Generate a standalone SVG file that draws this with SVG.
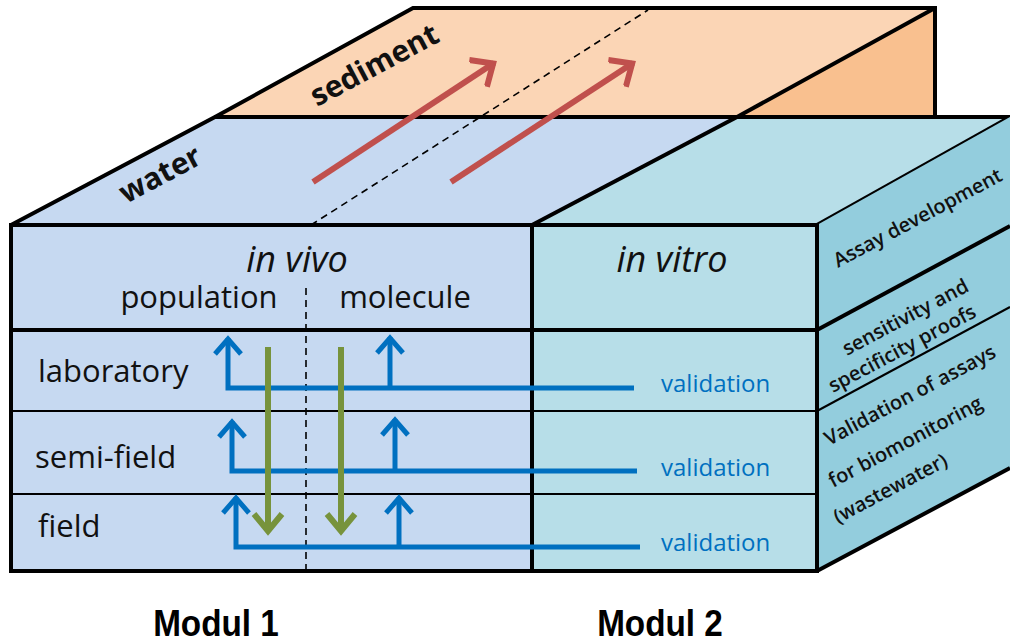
<svg xmlns="http://www.w3.org/2000/svg" width="1010" height="643" viewBox="0 0 1010 643">
<style>
.edge{stroke:#000;stroke-width:4;stroke-linejoin:miter;fill:none}
.thin{stroke:#000;stroke-width:2;fill:none}
.dash{stroke:#000;stroke-width:1.6;stroke-dasharray:7,5;fill:none}
.cal{font-family:"Open Sans","Liberation Sans",sans-serif;fill:#111}
.top{font-size:30px;font-weight:700}
.side{font-size:20px;font-weight:600}
.head{font-size:36px;font-style:italic}
.lab{font-size:31px}
.val{font-size:24px;fill:#0070c0}
.mod{font-family:"Liberation Sans",Arial,sans-serif;font-size:37px;font-weight:700;fill:#000}
.blue{stroke:#0070c0;stroke-width:5;fill:none}
.green{stroke:#77933c;stroke-width:6;fill:none}
.red{stroke:#c0504d;stroke-width:6;fill:none}
</style>
<defs>
<marker id="hb" markerUnits="userSpaceOnUse" viewBox="-20 -20 40 40" markerWidth="40" markerHeight="40" refX="0" refY="0" orient="auto">
<path d="M-16,-13 L-1,0 L-16,13" fill="none" stroke="#0070c0" stroke-width="5"/>
</marker>
<marker id="hg" markerUnits="userSpaceOnUse" viewBox="-20 -20 40 40" markerWidth="40" markerHeight="40" refX="0" refY="0" orient="auto">
<path d="M-18,-14 L-1,0 L-18,14" fill="none" stroke="#77933c" stroke-width="6"/>
</marker>
<marker id="hr" markerUnits="userSpaceOnUse" viewBox="-20 -20 40 40" markerWidth="40" markerHeight="40" refX="0" refY="0" orient="auto">
<path d="M-19,-16 L-1,0 L-19,16" fill="none" stroke="#c0504d" stroke-width="6"/>
</marker>
</defs>
<rect width="1010" height="643" fill="#fff"/>

<g id="sediment">
<polygon points="215,117 413,8 935,8 737,117" fill="#fbd5b5"/>
<polygon points="737,117 935,8 935,117" fill="#f9c08f"/>
<polyline class="edge" points="215,117 413,8 935,8 935,117"/>
<line class="edge" x1="737" y1="117" x2="935" y2="8"/>
<text class="cal top" transform="translate(317,107) rotate(-28)">sediment</text>
</g>

<g id="water">
<polygon points="11,225 215,117 737,117 532,225" fill="#c6d9f1"/>
<polygon points="532,225 737,117 1010,117 817,225" fill="#b7dee8"/>
<polyline class="edge" points="11,225 215,117 1010,117"/>
<line class="edge" x1="532" y1="225" x2="737" y2="117"/>
<line class="edge" x1="817" y1="225" x2="1010" y2="117"/>
<text class="cal top" transform="translate(126,204) rotate(-28)">water</text>
</g>

<g id="top-markings">
<line class="dash" x1="311" y1="225" x2="648" y2="10"/>
<line class="red" x1="313" y1="182" x2="494" y2="63" marker-end="url(#hr)"/>
<line class="red" x1="451" y1="182" x2="633" y2="63" marker-end="url(#hr)"/>
</g>

<g id="right-face">
<polygon points="817,225 1010,117 1010,468 817,571" fill="#93cddd"/>
<line class="edge" x1="817" y1="330" x2="1010" y2="226"/>
<line class="thin" x1="817" y1="411" x2="1010" y2="307"/>
<line class="edge" x1="817" y1="571" x2="1010" y2="468"/>
<text class="cal side" transform="translate(838,268) rotate(-28)">Assay development</text>
<text class="cal side" transform="translate(847,356) rotate(-28)">sensitivity and</text>
<text class="cal side" transform="translate(833,393) rotate(-28)">specificity proofs</text>
<text class="cal side" transform="translate(829,446) rotate(-28)">Validation  of assays</text>
<text class="cal side" transform="translate(833,488) rotate(-28)">for biomonitoring</text>
<text class="cal side" transform="translate(838,524) rotate(-28)">(wastewater)</text>
</g>

<g id="in-vivo">
<rect x="11" y="225" width="521" height="346" fill="#c6d9f1"/>
<text class="cal head" x="297" y="272" text-anchor="middle">in vivo</text>
<text class="cal lab" x="199" y="308" text-anchor="middle">population</text>
<text class="cal lab" x="405" y="308" text-anchor="middle">molecule</text>
<text class="cal lab" x="38" y="382">laboratory</text>
<text class="cal lab" x="35" y="468">semi-field</text>
<text class="cal lab" x="38" y="537">field</text>
<line class="dash" x1="306" y1="288" x2="306" y2="571"/>
</g>

<g id="in-vitro">
<rect x="532" y="225" width="285" height="346" fill="#b7dee8"/>
<text class="cal head" x="672" y="272" text-anchor="middle">in vitro</text>
<text class="cal val" x="661" y="392">validation</text>
<text class="cal val" x="661" y="476">validation</text>
<text class="cal val" x="661" y="551">validation</text>
</g>

<g id="grid">
<line class="thin" x1="11" y1="411" x2="817" y2="411"/>
<line class="thin" x1="11" y1="494" x2="817" y2="494"/>
<line class="edge" x1="11" y1="330" x2="817" y2="330"/>
<line class="edge" x1="532" y1="225" x2="532" y2="571"/>
<rect class="edge" x="11" y="225" width="806" height="346"/>
</g>

<g id="connectors">
<polyline class="blue" points="634,388 228,388 228,338" marker-end="url(#hb)"/>
<line class="blue" x1="390" y1="388" x2="390" y2="337" marker-end="url(#hb)"/>
<polyline class="blue" points="637,471 232,471 232,421" marker-end="url(#hb)"/>
<line class="blue" x1="395" y1="471" x2="395" y2="419" marker-end="url(#hb)"/>
<polyline class="blue" points="640,547 236,547 236,497" marker-end="url(#hb)"/>
<line class="blue" x1="399" y1="547" x2="399" y2="497" marker-end="url(#hb)"/>
<line class="green" x1="268" y1="347" x2="268" y2="532" marker-end="url(#hg)"/>
<line class="green" x1="341" y1="347" x2="341" y2="532" marker-end="url(#hg)"/>
</g>

<g id="labels">
<text class="mod" transform="translate(216,636) scale(0.9,1)" text-anchor="middle">Modul 1</text>
<text class="mod" transform="translate(660,636) scale(0.9,1)" text-anchor="middle">Modul 2</text>
</g>
</svg>
